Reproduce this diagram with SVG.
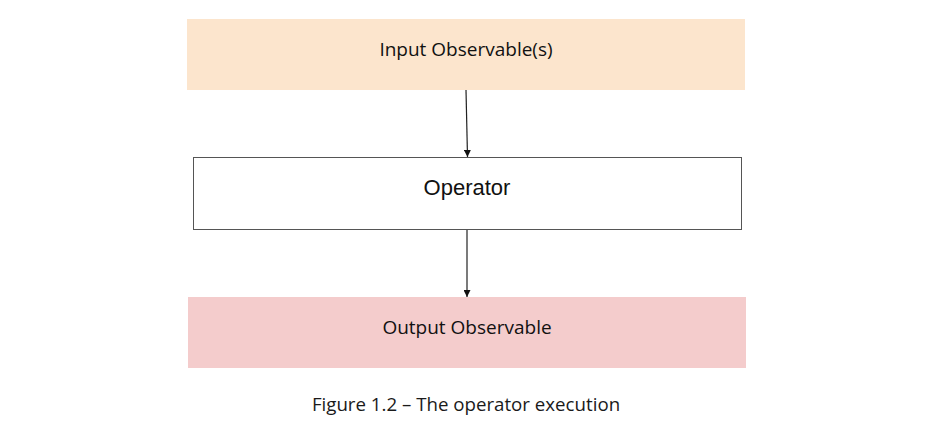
<svg xmlns="http://www.w3.org/2000/svg" width="950" height="446" viewBox="0 0 950 446">
<style>
.lbl{font-family:"Open Sans","Liberation Sans",sans-serif;font-size:19px;fill:#111;text-anchor:middle}
.op{font-family:"Liberation Sans",Arial,sans-serif;font-size:22px;fill:#111;text-anchor:middle}
.cap{font-family:"Open Sans","Liberation Sans",sans-serif;font-size:18.7px;fill:#1a1a1a;text-anchor:middle}
.edge{stroke:#222;stroke-width:1.2;fill:none}
</style>
<defs>
<marker id="ah" viewBox="0 0 10 10" refX="10" refY="5" markerWidth="8" markerHeight="7" markerUnits="userSpaceOnUse" orient="auto">
<path d="M0,0 L10,5 L0,10 z" fill="#111"/>
</marker>
</defs>
<rect width="950" height="446" fill="#fff"/>
<g id="input">
<rect x="187" y="19" width="558" height="71" fill="#FCE5CD"/>
<text class="lbl" x="466" y="56">Input Observable(s)</text>
</g>
<g id="operator">
<rect x="193.5" y="157.5" width="548" height="72" fill="#fff" stroke="#555" stroke-width="1"/>
<text class="op" x="467" y="195">Operator</text>
</g>
<g id="output">
<rect x="188" y="297" width="558" height="71" fill="#F4CCCC"/>
<text class="lbl" x="467" y="334">Output Observable</text>
</g>
<g id="connectors">
<line class="edge" x1="466" y1="90" x2="467.5" y2="157" marker-end="url(#ah)"/>
<line class="edge" x1="467" y1="230" x2="467" y2="297" marker-end="url(#ah)"/>
</g>
<text class="cap" x="466" y="411">Figure 1.2 – The operator execution</text>
</svg>
